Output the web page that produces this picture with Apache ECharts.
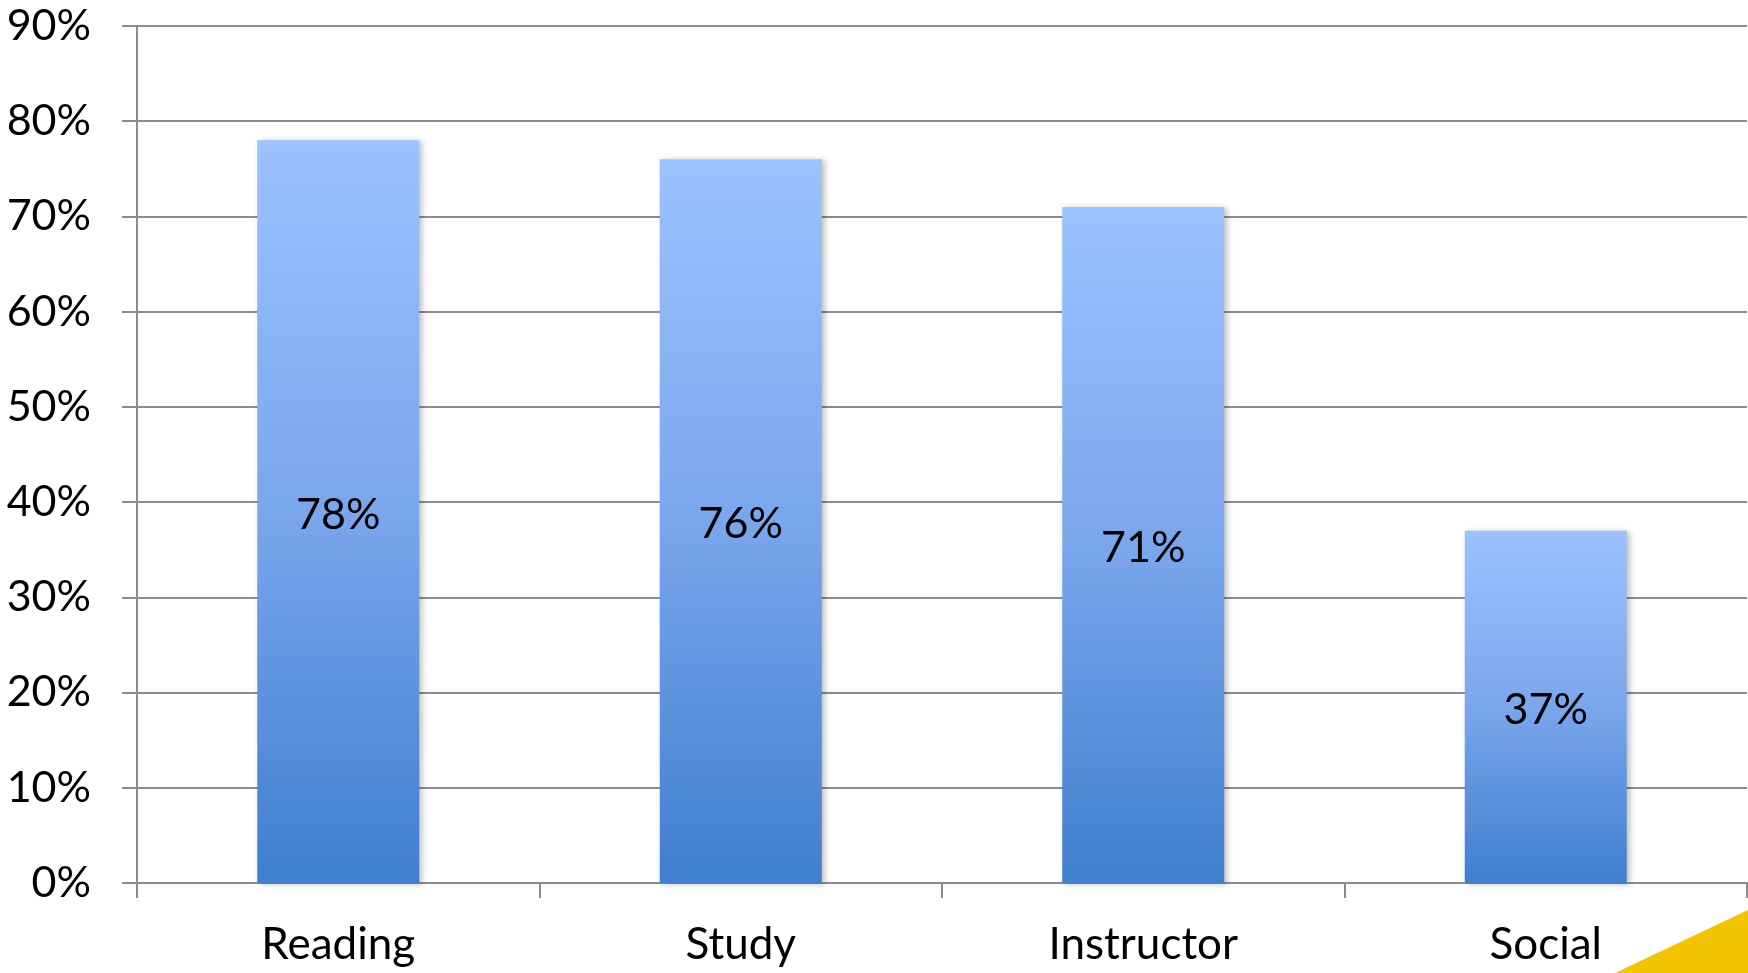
<!DOCTYPE html>
<html>
<head>
<meta charset="utf-8">
<script src="https://cdn.jsdelivr.net/npm/echarts@6/dist/echarts.min.js"></script>
<style>
  html, body { margin: 0; padding: 0; background: #fff; }
  #chart { width: 1748px; height: 973px; }
</style>
</head>
<body>
<div id="chart"></div>
<script>
// categorias e valores (%)
const categories = ['Reading', 'Study', 'Instructor', 'Social'];
const values = [78, 76, 71, 37];

(function() {
  const font = 'Lato, "Open Sans", sans-serif';

  const option = {
    animation: false,
    grid: {
      left: 137,
      right: 1,
      top: 26,
      bottom: 90,
      containLabel: false
    },
    xAxis: {
      type: 'category',
      data: categories,
      axisLine: { lineStyle: { color: '#8c8c8c', width: 2 } },
      axisTick: { show: true, length: 15, lineStyle: { color: '#8c8c8c', width: 2 } },
      axisLabel: {
        fontSize: 44,
        fontFamily: font,
        color: '#000',
        margin: 40
      }
    },
    yAxis: {
      type: 'value',
      min: 0,
      max: 90,
      interval: 10,
      axisLine: { show: true, lineStyle: { color: '#8c8c8c', width: 2 } },
      axisTick: { show: true, length: 15, lineStyle: { color: '#8c8c8c', width: 2 } },
      axisLabel: {
        fontSize: 43,
        fontFamily: font,
        color: '#000',
        margin: 46,
        formatter: '{value}%'
      },
      splitLine: {
        show: true,
        lineStyle: { color: '#8c8c8c', width: 2 }
      }
    },
    series: [
      {
        type: 'bar',
        data: values,
        barWidth: 162,
        itemStyle: {
          color: new echarts.graphic.LinearGradient(0, 0, 0, 1, [
            { offset: 0, color: '#9cc2ff' },
            { offset: 0.5, color: '#7aa6ec' },
            { offset: 1, color: '#3f7fcf' }
          ]),
          shadowBlur: 6,
          shadowOffsetX: 3,
          shadowOffsetY: 1,
          shadowColor: 'rgba(0,0,0,0.25)'
        },
        label: {
          show: true,
          position: 'inside',
          offset: [0, 3],
          fontSize: 43,
          fontFamily: font,
          color: '#000',
          formatter: '{c}%'
        }
      }
    ],
    graphic: [
      {
        type: 'polygon',
        shape: { points: [[1615, 973], [1748, 910], [1748, 973]] },
        style: { fill: '#f5c400' }
      }
    ]
  };

  const chart = echarts.init(document.getElementById('chart'));
  chart.setOption(option);
  window.addEventListener('resize', () => chart.resize());
})();
</script>
</body>
</html>
